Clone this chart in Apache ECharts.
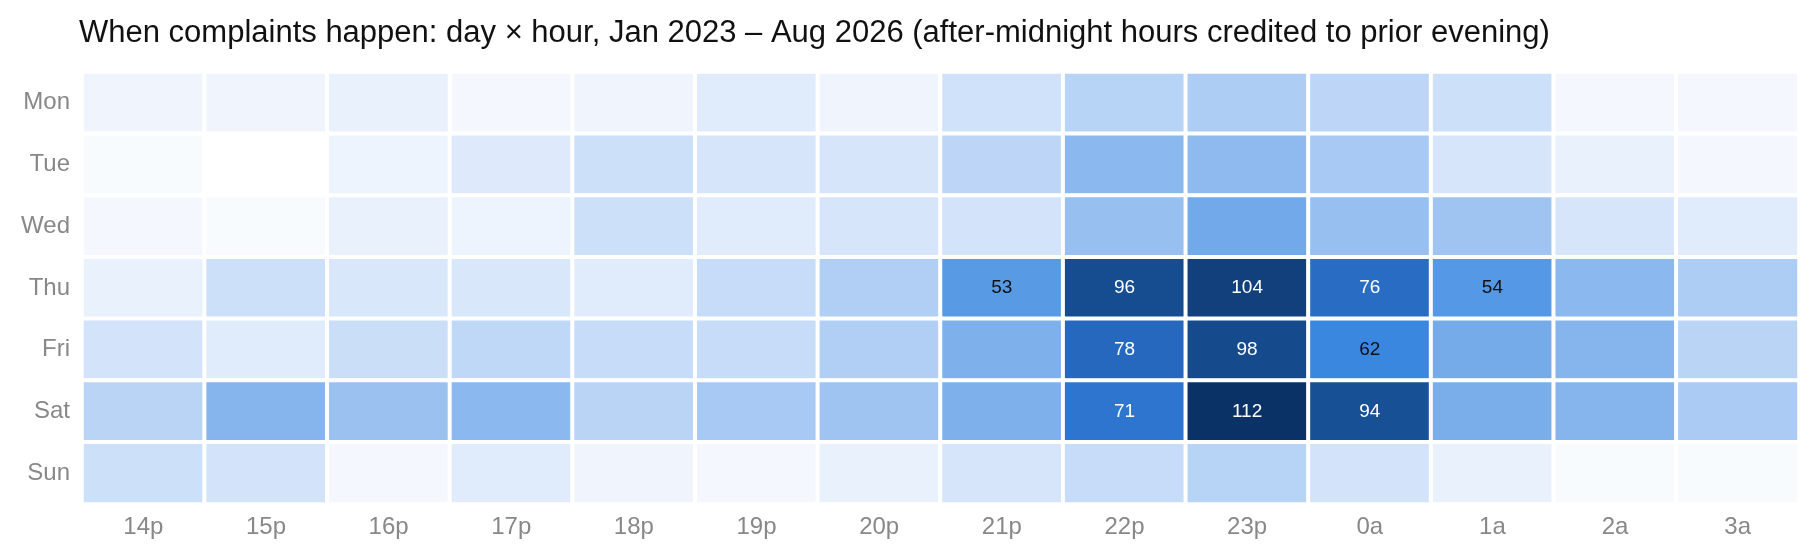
<!DOCTYPE html>
<html>
<head>
<meta charset="utf-8">
<script src="https://cdn.jsdelivr.net/npm/echarts@6/dist/echarts.min.js"></script>
<style>
html,body{margin:0;padding:0;background:#fff;}
#chart{width:1819px;height:560px;}
</style>
</head>
<body>
<div id="chart"></div>
<script>
const titleText = 'When complaints happen: day × hour, Jan 2023 – Aug 2026 (after-midnight hours credited to prior evening)';
const days = ['Mon','Tue','Wed','Thu','Fri','Sat','Sun'];
const hours = ['14p','15p','16p','17p','18p','19p','20p','21p','22p','23p','0a','1a','2a','3a'];

const mon = [7, 7, 10, 5, 7, 14, 7, 20, 28, 31, 26, 21, 5, 5];
const tue = [3, 0, 8, 15, 21, 18, 18, 26, 40, 39, 33, 18, 10, 5];
const wed = [5, 3, 10, 8, 21, 14, 18, 19, 37, 46, 37, 35, 18, 14];
const thu = [10, 21, 17, 17, 14, 23, 30, 53, 96, 104, 76, 54, 40, 31];
const fri = [19, 14, 22, 25, 23, 23, 30, 43, 78, 98, 62, 45, 41, 27];
const sat = [27, 41, 36, 40, 27, 33, 35, 43, 71, 112, 94, 44, 41, 32];
const sun = [21, 19, 5, 14, 7, 5, 10, 18, 23, 28, 19, 10, 3, 3];

const rows = [mon, tue, wed, thu, fri, sat, sun];
const labelMin = 50;
const whiteTextMin = 65;

const data = [];
rows.forEach((row, d) => {
  row.forEach((v, h) => {
    data.push({
      value: [h, d, v],
      label: {
        show: v >= labelMin,
        color: v >= whiteTextMin ? '#ffffff' : '#111111'
      }
    });
  });
});

const font = 'Liberation Sans, Arial, Helvetica, sans-serif';
const chart = echarts.init(document.getElementById('chart'), null, {renderer: 'canvas'});
chart.setOption({
  animation: false,
  backgroundColor: '#ffffff',
  title: {
    text: titleText,
    left: 74,
    top: 13,
    textStyle: {fontFamily: font, fontSize: 31, fontWeight: 'normal', color: '#111111'}
  },
  grid: {left: 82, top: 72, right: 20, bottom: 56},
  xAxis: {
    type: 'category',
    data: hours,
    axisLine: {show: false},
    axisTick: {show: false},
    splitArea: {show: false},
    axisLabel: {color: '#888888', fontSize: 24, fontFamily: font, margin: 11}
  },
  yAxis: {
    type: 'category',
    data: days,
    inverse: true,
    axisLine: {show: false},
    axisTick: {show: false},
    splitArea: {show: false},
    axisLabel: {color: '#888888', fontSize: 24, fontFamily: font, margin: 12}
  },
  visualMap: {
    show: false,
    min: 0,
    max: 112,
    dimension: 2,
    inRange: {
      color: ['#ffffff', '#dce9fb', '#abcbf4', '#6aa4e8', '#3383df', '#2564ba', '#164d91', '#0b3266']
    }
  },
  series: [{
    type: 'heatmap',
    data: data,
    itemStyle: {borderColor: '#ffffff', borderWidth: 4},
    label: {fontFamily: font, fontSize: 19},
    emphasis: {disabled: true}
  }]
});
</script>
</body>
</html>
